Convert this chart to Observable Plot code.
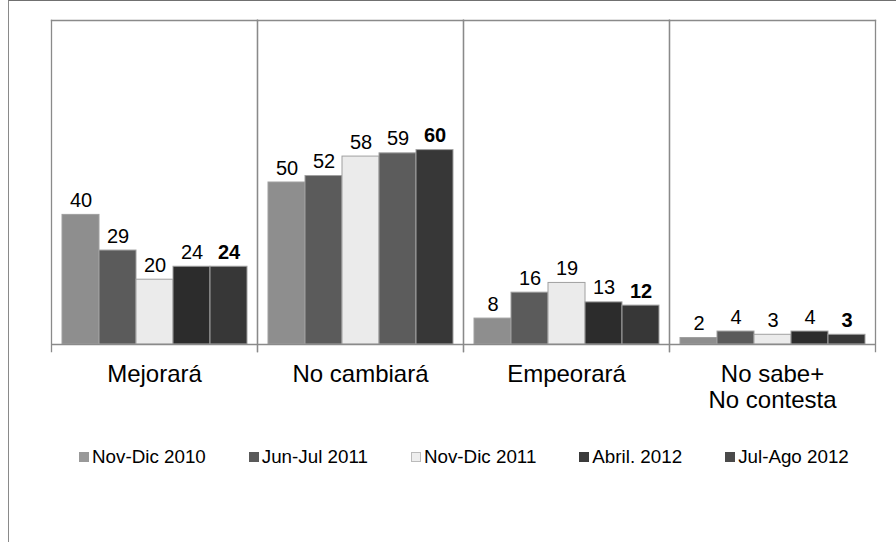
<!DOCTYPE html>
<html>
<head>
<meta charset="utf-8">
<script src="https://cdn.jsdelivr.net/npm/d3@7"></script>
<script src="https://cdn.jsdelivr.net/npm/@observablehq/plot@0.6"></script>
<style>
  html, body { margin: 0; padding: 0; background: #fff; }
  #wrap { position: relative; width: 896px; height: 542px; overflow: hidden; font-family: "Liberation Sans", Arial, sans-serif; }
  #border { position: absolute; left: 8px; top: 0; width: 900px; height: 560px; border-top: 1.5px solid #707070; border-left: 1.5px solid #8a8a8a; box-sizing: border-box; }
  #chart { position: absolute; left: 0; top: 0; }
  #legend { position: absolute; left: 79px; top: 446px; display: flex; font-size: 18.8px; color: #000; white-space: nowrap; }
  .item { display: flex; align-items: center; margin-right: 43px; }
  .sw { width: 10px; height: 10px; margin-right: 3px; box-sizing: border-box; }
</style>
</head>
<body>
<div id="wrap">
  <div id="border"></div>
  <div id="chart"></div>
  <div id="legend"></div>
</div>
<script>
const groups = ["Mejorará", "No cambiará", "Empeorará", "No sabe+\nNo contesta"];
const series = ["Nov-Dic 2010", "Jun-Jul 2011", "Nov-Dic 2011", "Abril. 2012", "Jul-Ago 2012"];
const novDic2010 = [40, 50, 8, 2];
const junJul2011 = [29, 52, 16, 4];
const novDic2011 = [20, 58, 19, 3];
const abril2012  = [24, 59, 13, 4];
const julAgo2012 = [24, 60, 12, 3];
const seriesValues = [novDic2010, junJul2011, novDic2011, abril2012, julAgo2012];
const colors = ["#8e8e8e", "#5b5b5b", "#ebebeb", "#2c2c2c", "#373737"];
const swatchColors = ["#999999", "#5a5a5a", "#eeeeee", "#3b3b3b", "#4a4a4a"];

const data = [];
series.forEach((s, si) => {
  groups.forEach((g, gi) => {
    data.push({group: g, series: s, value: seriesValues[si][gi], si});
  });
});
const last = series[series.length - 1];
const fillOf = d => (d.group === "No cambiará" && d.series === "Abril. 2012") ? "#5c5c5c" : colors[d.si];

const chart = Plot.plot({
  width: 896,
  height: 430,
  marginLeft: 50,
  marginRight: 21,
  marginTop: 20,
  marginBottom: 86,
  style: {fontFamily: "'Liberation Sans', Arial, sans-serif", background: "transparent", color: "#000"},
  fx: {domain: groups, padding: 0, label: null},
  x: {domain: series, paddingInner: 0, paddingOuter: 0.25, axis: null},
  y: {domain: [0, 100], axis: null},
  marks: [
    Plot.barY(data, {fx: "group", x: "series", y: "value", fill: fillOf, stroke: "#a0a0a0", strokeWidth: 1, inset: 0}),
    Plot.frame({anchor: "top", stroke: "#8a8a8a", strokeWidth: 1.3}),
    Plot.frame({anchor: "left", stroke: "#8a8a8a", strokeWidth: 1.3, insetBottom: -7}),
    Plot.frame({anchor: "right", stroke: "#8a8a8a", strokeWidth: 1.3, insetBottom: -7}),
    Plot.ruleY([0], {stroke: "#8a8a8a", strokeWidth: 1.3}),
    Plot.text(data.filter(d => d.series !== last), {fx: "group", x: "series", y: "value", text: d => String(d.value), lineAnchor: "bottom", dy: -8, fontSize: 20, fill: "#000"}),
    Plot.text(data.filter(d => d.series === last), {fx: "group", x: "series", y: "value", text: d => String(d.value), lineAnchor: "bottom", dy: -8, fontSize: 20, fontWeight: "bold", fill: "#000"}),
    Plot.axisFx({anchor: "bottom", tickSize: 0, tickPadding: 18, fontSize: 24, lineHeight: 1.12, label: null, fill: "#000"})
  ]
});
document.getElementById("chart").appendChild(chart);

const legend = document.getElementById("legend");
series.forEach((s, i) => {
  const item = document.createElement("div");
  item.className = "item";
  const sw = document.createElement("div");
  sw.className = "sw";
  sw.style.background = swatchColors[i];
  if (i === 2) sw.style.border = "1px solid #bbbbbb";
  const t = document.createElement("span");
  t.textContent = s;
  item.appendChild(sw);
  item.appendChild(t);
  legend.appendChild(item);
});
</script>
</body>
</html>
